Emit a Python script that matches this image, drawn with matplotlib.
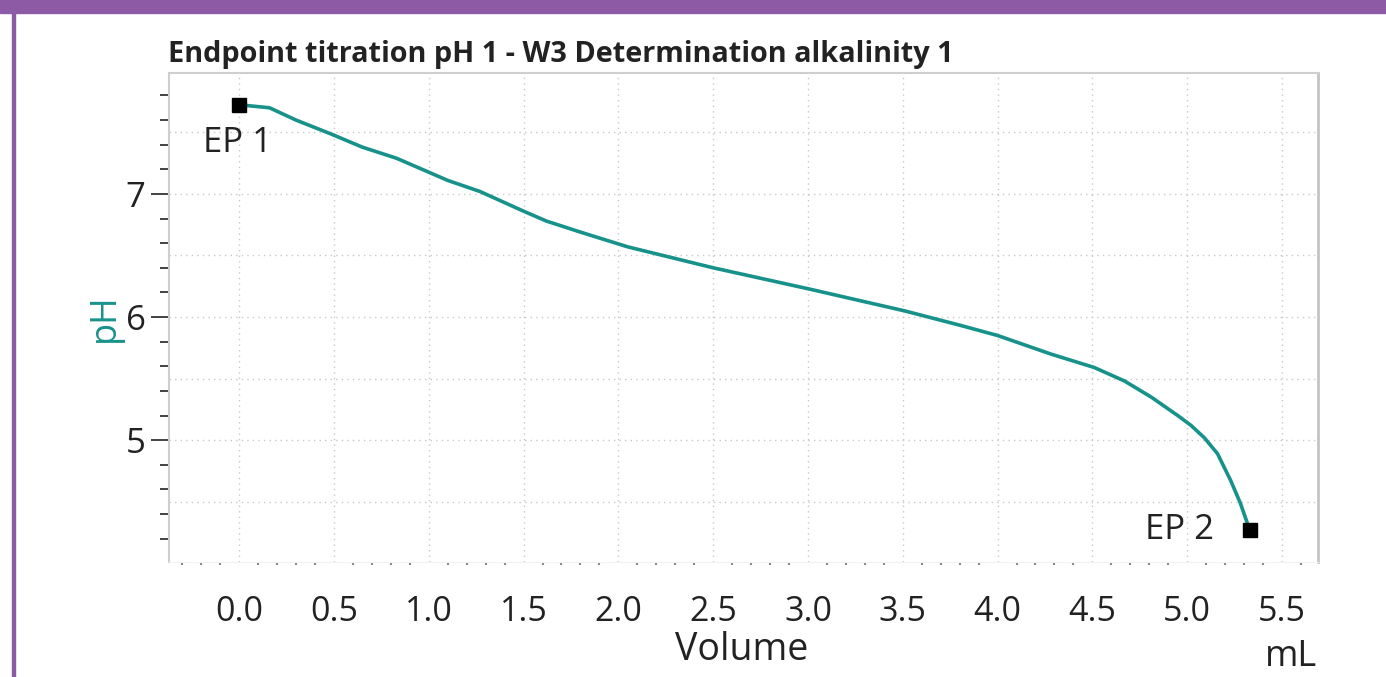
"""Endpoint titration curve"""

import matplotlib.pyplot as plt
import numpy as np
from matplotlib.patches import Rectangle
from matplotlib.ticker import MultipleLocator

plt.rcParams['font.family'] = ['Open Sans', 'DejaVu Sans']

volume = [0.0, 0.03, 0.16, 0.30, 0.48, 0.65, 0.83, 1.01, 1.10, 1.27, 1.50, 1.62,
          1.80, 2.05, 2.50, 3.00, 3.51, 3.81, 4.00, 4.28, 4.51, 4.67, 4.81, 4.95,
          5.02, 5.09, 5.16, 5.23, 5.28, 5.33]
ph = [7.72, 7.72, 7.70, 7.60, 7.49, 7.38, 7.29, 7.17, 7.11, 7.02, 6.86, 6.78,
      6.69, 6.57, 6.40, 6.23, 6.05, 5.93, 5.85, 5.70, 5.59, 5.48, 5.35, 5.20,
      5.12, 5.02, 4.89, 4.67, 4.49, 4.27]
ep_labels = ['EP 1', 'EP 2']
ep_volume = [0.0, 5.33]
ep_ph = [7.72, 4.27]

teal = '#17928a'
purple = '#8d5aa6'
dark = '#222222'

fig = plt.figure(figsize=(13.86, 6.77), dpi=100)

# purple frame (top bar + left edge)
fig.patches.append(Rectangle((0, 1 - 13 / 677), 1, 13 / 677, transform=fig.transFigure,
                             color=purple, zorder=0))
fig.patches.append(Rectangle((12 / 1386, 0), 3 / 1386, 1, transform=fig.transFigure,
                             color=purple, zorder=0))

ax = fig.add_axes([169 / 1386, 1 - 562 / 677, (1318 - 169) / 1386, (562 - 72.7) / 677])

ax.plot(volume, ph, color=teal, linewidth=2.6, zorder=3, solid_joinstyle='round')
ax.plot(ep_volume, ep_ph, linestyle='none', marker='s', markersize=10,
        color='black', zorder=4)

ax.annotate(ep_labels[0], (ep_volume[0], ep_ph[0]), xytext=(-2, -38),
            textcoords='offset pixels', ha='center', va='center',
            fontsize=25, color=dark)
ax.annotate(ep_labels[1], (ep_volume[1], ep_ph[1]), xytext=(-36, 0),
            textcoords='offset pixels', ha='right', va='center',
            fontsize=25, color=dark)

ax.set_xlim(-0.37, 5.69)
ax.set_ylim(4.01, 7.985)

# x axis
ax.xaxis.set_major_locator(MultipleLocator(0.5))
ax.xaxis.set_minor_locator(MultipleLocator(0.1))
ax.xaxis.set_major_formatter(lambda v, p: f'{v:.1f}')
ax.tick_params(axis='x', which='major', length=0, pad=24, labelsize=24.5, labelcolor=dark)
ax.tick_params(axis='x', which='minor', length=2, width=1.5, color='#888888')
ax.grid(axis='x', which='major', color='#c8c8c8', linestyle=(0, (1, 3)), linewidth=1)

# y axis
ax.yaxis.set_major_locator(MultipleLocator(1))
ax.yaxis.set_minor_locator(MultipleLocator(0.2))
ax.tick_params(axis='y', which='major', length=13, width=1.2, color=dark,
               pad=4, labelsize=25, labelcolor=dark)
ax.tick_params(axis='y', which='minor', length=6.5, width=1.2, color=dark)
for level in np.arange(4.5, 8.0, 0.5):
    ax.axhline(level, color='#c8c8c8', linestyle=(0, (1, 3)), linewidth=1, zorder=1)

for side in ['left', 'top']:
    ax.spines[side].set_color('#cfcfcf')
    ax.spines[side].set_linewidth(1.5)
ax.spines['right'].set_color('#c4c4c4')
ax.spines['right'].set_linewidth(2)
ax.spines['bottom'].set_color('#f2f2f2')

ax.set_ylabel('pH', color=teal, fontsize=26, labelpad=2)
fig.text(742 / 1386, 1 - 650 / 677, 'Volume', ha='center', va='center',
         fontsize=27, color=dark)
fig.text(1291 / 1386, 1 - 657 / 677, 'mL', ha='center', va='center',
         fontsize=26, color=dark)
fig.text(168 / 1386, 1 - 62 / 677, 'Endpoint titration pH 1 - W3 Determination alkalinity 1',
         ha='left', va='baseline', fontsize=20.8, fontweight='bold', color=dark)

fig.savefig('out.png', dpi=100)
